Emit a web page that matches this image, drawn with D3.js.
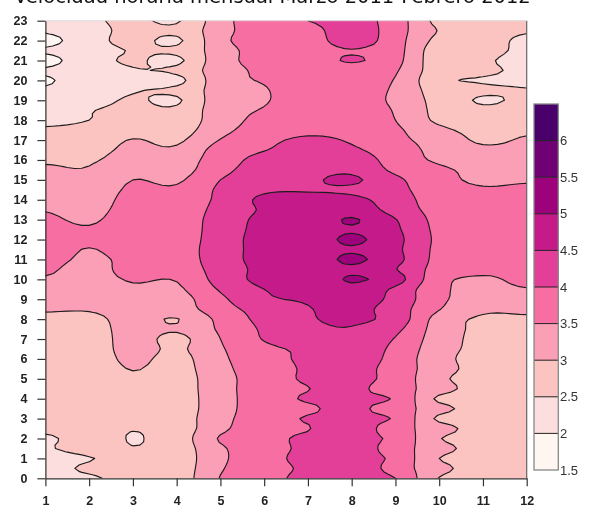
<!DOCTYPE html>
<html><head><meta charset="utf-8">
<style>html,body{margin:0;padding:0;background:#fff}svg{display:block;filter:blur(0.4px)}</style>
<script src="https://cdn.jsdelivr.net/npm/d3@7"></script></head><body>
<svg id="c" width="590" height="510"></svg>
<script>
const titleText = "Velocidad horaria mensual Marzo 2011-Febrero 2012";
const months = [1,2,3,4,5,6,7,8,9,10,11,12];
const hourTicks = d3.range(0,24);
const levels = [1.5,2,2.5,3,3.5,4,4.5,5,5.5,6,6.5];
const legendTicks = [1.5,2,2.5,3,3.5,4,4.5,5,5.5,6];
const bandColors = ["#fff6f2","#fddede","#fcc4c0","#fa9fb5","#f76ea3","#e33f98","#c51b8a","#9e017c","#6f0175","#49006a"];
// wind speed read every half hour (rows, 0, 0.5 ... 23) for months 1..12 (columns)
const speedByHalfHour = [
[2.30,2.42,2.70,2.72,3.52,3.88,4.09,4.25,4.00,2.98,2.70,2.70],
[2.28,2.60,2.70,2.72,3.45,3.86,4.07,4.39,3.76,3.18,2.70,2.70],
[2.25,2.47,2.70,2.72,3.40,3.85,4.10,4.20,3.88,3.00,2.70,2.70],
[2.45,2.70,2.52,2.72,3.42,3.85,4.08,4.33,3.72,3.23,2.70,2.70],
[2.42,2.70,2.485,2.72,3.55,3.85,4.08,4.12,3.88,3.03,2.70,2.70],
[2.62,2.70,2.52,2.72,3.38,3.85,3.98,4.30,3.70,3.26,2.70,2.70],
[2.70,2.70,2.70,2.75,3.35,3.78,4.03,4.05,3.95,2.90,2.70,2.70],
[2.70,2.70,2.70,2.75,3.30,3.78,3.94,4.10,3.75,3.20,2.70,2.70],
[2.70,2.70,2.72,2.75,3.30,3.78,4.04,4.04,3.95,2.90,2.70,2.70],
[2.70,2.70,2.80,2.78,3.30,3.80,3.99,4.12,3.71,3.25,2.70,2.70],
[2.70,2.70,2.92,2.80,3.30,3.80,4.05,4.16,3.80,3.13,2.70,2.70],
[2.70,2.70,3.02,2.82,3.35,3.82,4.05,4.25,3.75,3.25,2.75,2.72],
[2.70,2.70,3.12,2.85,3.40,3.85,4.08,4.35,3.80,3.20,2.75,2.75],
[2.72,2.70,3.20,2.92,3.45,3.88,4.10,4.35,3.87,3.22,2.85,2.80],
[2.75,2.72,3.20,2.87,3.50,4.03,4.30,4.40,3.97,3.25,2.87,2.85],
[2.80,2.78,3.20,3.05,3.57,4.07,4.38,4.47,4.12,3.27,2.90,2.88],
[2.88,2.85,3.20,2.98,3.63,4.15,4.45,4.58,4.30,3.30,2.93,2.92],
[3.06,3.05,3.25,3.25,3.80,4.20,4.47,4.65,4.25,3.52,3.10,3.12],
[3.30,3.20,3.30,3.30,3.90,4.42,4.55,4.75,4.35,3.60,3.30,3.35],
[3.35,3.25,3.42,3.42,4.05,4.50,4.60,4.88,4.40,3.60,3.40,3.48],
[3.45,3.30,3.55,3.53,4.19,4.63,4.65,5.04,4.72,3.65,3.45,3.60],
[3.60,3.28,3.72,3.72,4.20,4.63,4.65,4.93,4.52,3.80,3.60,3.65],
[3.70,3.40,3.65,3.75,4.25,4.67,4.70,5.08,4.65,3.85,3.75,3.75],
[3.75,3.48,3.75,3.78,4.25,4.67,4.70,4.96,4.60,3.88,3.75,3.75],
[3.75,3.58,3.85,3.75,4.25,4.67,4.70,5.08,4.64,3.90,3.75,3.75],
[3.68,3.55,3.82,3.75,4.22,4.65,4.68,4.96,4.58,3.88,3.75,3.73],
[3.60,3.42,3.80,3.75,4.20,4.62,4.65,5.04,4.52,3.85,3.75,3.72],
[3.47,3.30,3.75,3.72,4.15,4.55,4.60,4.80,4.30,3.82,3.70,3.70],
[3.30,3.20,3.70,3.70,4.10,4.60,4.60,4.62,4.25,3.75,3.68,3.70],
[3.18,3.15,3.60,3.58,4.08,4.42,4.47,4.42,4.15,3.70,3.55,3.60],
[3.10,3.10,3.50,3.43,4.00,4.28,4.42,4.58,4.10,3.65,3.42,3.45],
[3.05,3.03,3.38,3.30,3.85,4.25,4.35,4.40,3.90,3.60,3.35,3.35],
[2.95,2.95,3.20,3.25,3.75,4.17,4.30,4.30,3.78,3.42,3.20,3.25],
[2.80,2.85,3.10,3.08,3.70,3.98,4.20,4.08,3.72,3.36,3.10,3.15],
[2.70,2.75,3.02,2.92,3.52,3.88,4.07,3.95,3.62,3.30,2.92,3.05],
[2.55,2.62,2.85,2.78,3.35,3.75,3.90,3.85,3.58,3.12,2.85,2.93],
[2.40,2.50,2.65,2.70,3.25,3.65,3.75,3.80,3.50,2.90,2.72,2.82],
[2.20,2.47,2.62,2.60,3.28,3.53,3.70,3.78,3.46,2.85,2.60,2.72],
[2.10,2.30,2.56,2.43,3.30,3.47,3.70,3.75,3.40,2.82,2.45,2.60],
[2.05,2.28,2.47,2.62,3.22,3.47,3.70,3.75,3.42,2.75,2.58,2.52],
[1.95,2.25,2.42,2.35,3.30,3.53,3.65,3.75,3.47,2.62,2.47,2.44],
[2.05,2.28,2.47,2.60,3.28,3.58,3.65,3.78,3.55,2.70,2.58,2.42],
[1.85,2.30,2.56,2.40,3.30,3.65,3.70,4.05,3.65,2.68,2.56,2.35],
[2.05,2.30,2.53,2.60,3.25,3.75,3.75,3.97,3.68,2.70,2.65,2.40],
[1.85,2.30,2.65,2.42,3.35,3.80,3.75,4.25,3.70,2.85,2.70,2.40],
[2.05,2.30,2.65,2.62,3.30,3.82,3.80,4.30,3.72,2.97,2.70,2.55],
[2.05,2.40,2.60,2.45,3.30,3.85,4.00,4.20,3.75,2.85,2.70,2.70]
];

const svg = d3.select("#c");
const x = d3.scaleLinear().domain([1,12]).range([45.4,526.7]);
const y = d3.scaleLinear().domain([0,23]).range([478.3,20.7]);
const legendY = d3.scaleLinear().domain([1.5,6.5]).range([470,104]);

// Catmull-Rom refinement of the table, then d3.contours on it
const fx = 6, fy = 3;
function cr(a,b,c,d,t){return 0.5*(2*b+(c-a)*t+(2*a-5*b+4*c-d)*t*t+(3*b-a-3*c+d)*t*t*t);}
function refine1(arr,f){
  const out=[];const n=arr.length;
  for(let i=0;i<n-1;i++){
    const a=arr[Math.max(i-1,0)],b=arr[i],c=arr[i+1],d=arr[Math.min(i+2,n-1)];
    for(let k=0;k<f;k++) out.push(cr(a,b,c,d,k/f));
  }
  out.push(arr[n-1]);return out;
}
const rowsFine = speedByHalfHour.map(r=>refine1(r,fx));
const nx = rowsFine[0].length;
const colsFine = d3.range(nx).map(i=>refine1(rowsFine.map(r=>r[i]),fy));
const ny = colsFine[0].length;
const fine = new Float64Array(nx*ny);
for(let i=0;i<nx;i++)for(let j=0;j<ny;j++)fine[j*nx+i]=colsFine[i][j];

const contours = d3.contours().size([nx,ny]).smooth(true).thresholds(levels.slice(0,-1))(fine);
const proj = d3.geoTransform({point(px,py){
  this.stream.point(x(1+(px-0.5)/fx), y((py-0.5)/fy/2));
}});
const path = d3.geoPath(proj);

svg.append("clipPath").attr("id","plot").append("rect")
  .attr("x",x(1)).attr("y",y(23)).attr("width",x(12)-x(1)).attr("height",y(0)-y(23));
const g = svg.append("g").attr("clip-path","url(#plot)");
g.selectAll("path").data(contours).join("path")
  .attr("d",path).attr("fill",(d,i)=>bandColors[i]).attr("fill-rule","evenodd")
  .attr("stroke","#1c1c1c").attr("stroke-width",1.15).attr("stroke-linejoin","round");

// frame
svg.append("line").attr("x1",x(12)).attr("x2",x(12)).attr("y1",y(23)).attr("y2",y(0)).attr("stroke","#666").attr("stroke-width",1.2);
svg.append("line").attr("x1",x(1)).attr("x2",x(12)).attr("y1",y(23)).attr("y2",y(23)).attr("stroke","#ddd").attr("stroke-width",1);

// axes
const ax = svg.append("g").attr("transform",`translate(0,${y(0)})`)
  .call(d3.axisBottom(x).tickValues(months).tickFormat(d3.format("d")).tickSize(8).tickPadding(10).tickSizeOuter(0));
const ay = svg.append("g").attr("transform",`translate(${x(1)},0)`)
  .call(d3.axisLeft(y).tickValues(hourTicks).tickFormat(d3.format("d")).tickSize(8).tickPadding(10).tickSizeOuter(0));
[ax,ay].forEach(a=>{
  a.selectAll("path,line").attr("stroke","#333").attr("stroke-width",1.2);
  a.selectAll("text").attr("font-family","Liberation Sans").attr("font-weight","bold").attr("font-size",12.5).attr("fill","#222");
});

// legend
const lg = svg.append("g");
const legendBands = levels.slice(0,-1).map((v,i)=>({lo:v,hi:levels[i+1],c:bandColors[i]}));
lg.selectAll("rect.b").data(legendBands).join("rect").attr("class","b")
  .attr("x",534).attr("width",24.3)
  .attr("y",d=>legendY(d.hi)).attr("height",d=>legendY(d.lo)-legendY(d.hi)).attr("fill",d=>d.c);
lg.selectAll("line").data(legendTicks.slice(1)).join("line")
  .attr("x1",534).attr("x2",558.3).attr("y1",d=>legendY(d)).attr("y2",d=>legendY(d)).attr("stroke","#222").attr("stroke-width",1);
lg.append("rect").attr("x",534).attr("y",legendY(6.5)).attr("width",24.3).attr("height",legendY(1.5)-legendY(6.5))
  .attr("fill","none").attr("stroke","#888").attr("stroke-width",1.3);
lg.selectAll("text").data(legendTicks).join("text")
  .attr("x",560).attr("y",d=>legendY(d)).attr("dy","0.36em")
  .attr("font-family","Liberation Sans").attr("font-size",13).attr("fill","#333").text(d=>d);

// title, cut by the top edge as in the picture
svg.append("text").attr("x",14).attr("y",3).attr("font-family","DejaVu Sans").attr("font-size",19.5).attr("fill","#111").text(titleText);
</script></body></html>
